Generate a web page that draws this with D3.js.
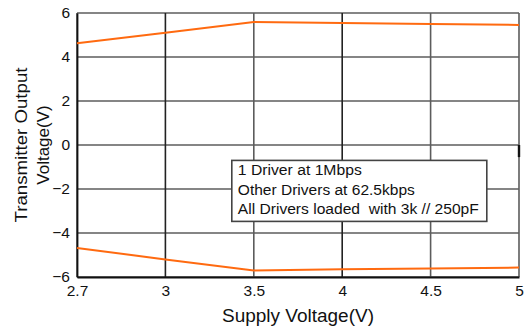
<!DOCTYPE html>
<html>
<head>
<meta charset="utf-8">
<script src="https://cdn.jsdelivr.net/npm/d3@7"></script>
<style>
  html, body { margin: 0; padding: 0; background: #fff; }
  svg text { font-family: "Liberation Sans", Arial, Helvetica, sans-serif; fill: #111; }
</style>
</head>
<body>
<svg id="chart" width="525" height="326"></svg>
<script>
// Supply voltage steps (equally spaced on the axis)
const supplyVoltages = ["2.7", "3", "3.5", "4", "4.5", "5"];
// Output swing, high and low driver states (V)
const highOutput = [4.62, 5.10, 5.59, 5.55, 5.50, 5.46];
const lowOutput = [-4.68, -5.20, -5.70, -5.65, -5.61, -5.57];
const yTicks = [-6, -4, -2, 0, 2, 4, 6];
const noteLines = [
  "1 Driver at 1Mbps",
  "Other Drivers at 62.5kbps",
  "All Drivers loaded  with 3k // 250pF"
];

const svg = d3.select("#chart");
const margin = { left: 77, right: 6, top: 13, bottom: 49 };
const W = 525, H = 326;

const x = d3.scalePoint().domain(supplyVoltages).range([margin.left, W - margin.right]);
const y = d3.scaleLinear().domain([-6, 6]).range([H - margin.bottom, margin.top]);

const gridColor = "#5c5c5c";

// horizontal grid
svg.append("g").selectAll("line").data(yTicks).join("line")
  .attr("x1", margin.left).attr("x2", W - margin.right)
  .attr("y1", d => y(d)).attr("y2", d => y(d))
  .attr("stroke", gridColor).attr("stroke-width", 1.6);

// vertical grid
svg.append("g").selectAll("line").data(supplyVoltages).join("line")
  .attr("x1", d => x(d)).attr("x2", d => x(d))
  .attr("y1", margin.top).attr("y2", H - margin.bottom)
  .attr("stroke", (d, i) => (i === 1 || i === 3) ? "#222" : gridColor)
  .attr("stroke-width", 1.6);

// small mark on the right frame near zero
svg.append("line")
  .attr("x1", W - margin.right).attr("x2", W - margin.right)
  .attr("y1", y(0)).attr("y2", y(-0.55))
  .attr("stroke", "#111").attr("stroke-width", 2.4);

// axes
const yAxis = d3.axisLeft(y).tickValues(yTicks).tickSize(0).tickPadding(7);
const xAxis = d3.axisBottom(x).tickSize(0).tickPadding(8);

const gy = svg.append("g").attr("transform", `translate(${margin.left},0)`).call(yAxis);
gy.select(".domain").attr("stroke", "#111").attr("stroke-width", 1.8);
gy.selectAll("text").attr("font-size", 15.5).style("font-family", "Liberation Sans, Arial, sans-serif").attr("fill", "#111");

const gx = svg.append("g").attr("transform", `translate(0,${H - margin.bottom})`).call(xAxis);
gx.select(".domain").attr("stroke", "#111").attr("stroke-width", 1.8);
gx.selectAll("text").attr("font-size", 15.5).style("font-family", "Liberation Sans, Arial, sans-serif").attr("fill", "#111");

// data lines
const line = d3.line().x((d, i) => x(supplyVoltages[i])).y(d => y(d));
[highOutput, lowOutput].forEach(series => {
  svg.append("path").datum(series)
    .attr("d", line)
    .attr("fill", "none")
    .attr("stroke", "#ff6a10")
    .attr("stroke-width", 2);
});

// annotation box
const boxX = x("3.5") - 22, boxY = y(-0.7);
const box = svg.append("g");
box.append("rect")
  .attr("x", boxX).attr("y", boxY)
  .attr("width", 255).attr("height", 61)
  .attr("fill", "#fff").attr("stroke", "#444").attr("stroke-width", 1.6);
box.selectAll("text").data(noteLines).join("text")
  .attr("x", boxX + 6)
  .attr("y", (d, i) => boxY + 15 + i * 19.5)
  .attr("font-size", 14)
  .style("white-space", "pre")
  .attr("textLength", (d, i) => [124, 177, 241][i])
  .attr("lengthAdjust", "spacingAndGlyphs")
  .text(d => d);

// axis titles
svg.append("text")
  .attr("x", (margin.left + W - margin.right) / 2 + 0)
  .attr("y", 322)
  .attr("text-anchor", "middle")
  .attr("font-size", 17.5)
  .attr("textLength", 152)
  .attr("lengthAdjust", "spacingAndGlyphs")
  .text("Supply Voltage(V)");

const yTitle = svg.append("text")
  .attr("transform", `translate(27,145) rotate(-90)`)
  .attr("text-anchor", "middle")
  .attr("font-size", 17);
yTitle.append("tspan").attr("x", 0).attr("dy", 0).attr("textLength", 155).attr("lengthAdjust", "spacingAndGlyphs").text("Transmitter Output");
yTitle.append("tspan").attr("x", 0).attr("dy", 22).text("Voltage(V)");
</script>
</body>
</html>
